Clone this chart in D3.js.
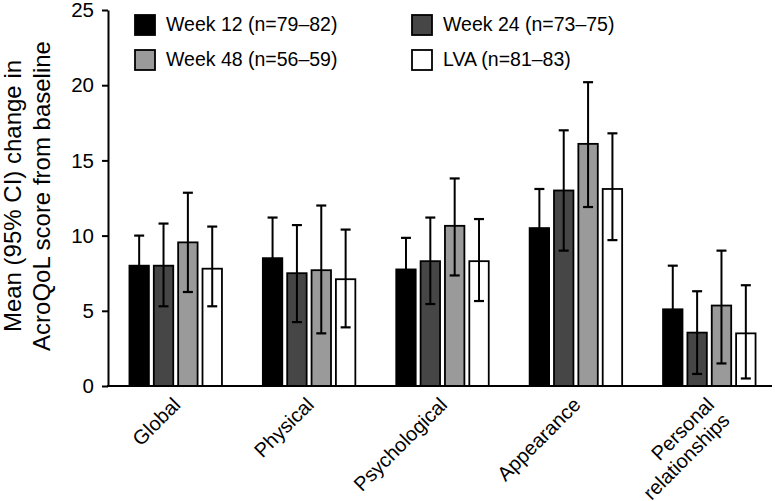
<!DOCTYPE html>
<html>

<head>
	<meta charset="utf-8">
	<title>AcroQoL change from baseline</title>
	<script type="text/javascript" src="https://cdn.jsdelivr.net/npm/d3@7/dist/d3.min.js"></script>
	<style>
		body { margin: 0; background: #fff; }
		svg text { font-family: "Liberation Sans", Arial, Helvetica, sans-serif; fill: #000; }
	</style>
</head>

<body>
	<div id="chart"></div>

	<script type="text/javascript">
		var categories = ["Global", "Physical", "Psychological", "Appearance", "Personal relationships"];
		var seriesNames = ["Week 12 (n=79\u201382)", "Week 24 (n=73\u201375)", "Week 48 (n=56\u201359)", "LVA (n=81\u201383)"];
		var seriesColors = ["#000000", "#464646", "#9a9a9a", "#ffffff"];

		// mean change per domain
		var week12 = [8.0, 8.5, 7.75, 10.5, 5.1];
		var week24 = [8.0, 7.5, 8.3, 13.0, 3.55];
		var week48 = [9.55, 7.7, 10.65, 16.1, 5.35];
		var lva = [7.8, 7.1, 8.3, 13.1, 3.5];

		// 95% CI, lower / upper
		var week12Lo = [6.0, 5.8, 5.65, 7.9, 2.2];
		var week12Hi = [10.0, 11.2, 9.85, 13.1, 8.0];
		var week24Lo = [5.3, 4.25, 5.45, 9.0, 0.8];
		var week24Hi = [10.8, 10.7, 11.2, 17.0, 6.3];
		var week48Lo = [6.25, 3.5, 7.35, 11.9, 1.5];
		var week48Hi = [12.85, 12.0, 13.8, 20.2, 9.0];
		var lvaLo = [5.3, 3.9, 5.65, 9.7, 0.5];
		var lvaHi = [10.6, 10.4, 11.1, 16.8, 6.7];

		var yTicks = [0, 5, 10, 15, 20, 25];

		var means = [week12, week24, week48, lva];
		var lows = [week12Lo, week24Lo, week48Lo, lvaLo];
		var highs = [week12Hi, week24Hi, week48Hi, lvaHi];

		// flat rows for drawing
		var rows = [];
		categories.forEach(function (c, i) {
			seriesNames.forEach(function (s, j) {
				rows.push({ cat: c, series: s, color: seriesColors[j], mean: means[j][i], lo: lows[j][i], hi: highs[j][i] });
			});
		});

		var width = 775;
		var height = 501;
		var svg = d3.select("#chart").append("svg").attr("width", width).attr("height", height);

		var x0 = d3.scaleBand().domain(categories).range([109, 776]).paddingInner(0).paddingOuter(0);
		var groupW = 94;
		var x1 = d3.scaleBand().domain(seriesNames).range([0, groupW]).paddingInner(0.14).paddingOuter(0);
		var y = d3.scaleLinear().domain([0, 25]).range([386, 10]);

		function groupX(d) {
			return x0(d.cat) + (x0.bandwidth() - groupW) / 2 + x1(d.series);
		}

		// bars
		svg.append("g").selectAll("rect")
			.data(rows)
			.enter().append("rect")
			.attr("x", function (d) { return groupX(d) + 0.75; })
			.attr("y", function (d) { return y(d.mean); })
			.attr("width", x1.bandwidth() - 1.5)
			.attr("height", function (d) { return y(0) - y(d.mean); })
			.attr("fill", function (d) { return d.color; })
			.attr("stroke", "#000")
			.attr("stroke-width", 1.8);

		// error bars
		var err = svg.append("g").selectAll("g")
			.data(rows)
			.enter().append("g")
			.attr("transform", function (d) { return "translate(" + (groupX(d) + x1.bandwidth() / 2) + ",0)"; });
		err.append("line")
			.attr("y1", function (d) { return y(d.lo); })
			.attr("y2", function (d) { return y(d.hi); })
			.attr("stroke", "#000").attr("stroke-width", 2);
		err.append("line")
			.attr("x1", -5).attr("x2", 5)
			.attr("y1", function (d) { return y(d.hi); })
			.attr("y2", function (d) { return y(d.hi); })
			.attr("stroke", "#000").attr("stroke-width", 2.2);
		err.append("line")
			.attr("x1", -5).attr("x2", 5)
			.attr("y1", function (d) { return y(d.lo); })
			.attr("y2", function (d) { return y(d.lo); })
			.attr("stroke", "#000").attr("stroke-width", 2.2);

		// y axis
		var yAxis = d3.axisLeft(y).tickValues(yTicks).tickSize(6).tickPadding(8).tickSizeOuter(0);
		var gY = svg.append("g").attr("transform", "translate(108,0)").call(yAxis);
		gY.selectAll("path, line").attr("stroke", "#000").attr("stroke-width", 2);
		gY.selectAll("text").style("font-size", "20.5px").attr("dy", "0.33em");

		// x axis baseline + labels
		svg.append("line")
			.attr("x1", 107).attr("x2", 772)
			.attr("y1", y(0)).attr("y2", y(0))
			.attr("stroke", "#000").attr("stroke-width", 2);

		var xLabels = svg.append("g").selectAll("text")
			.data(categories)
			.enter().append("text")
			.attr("transform", function (d) { return "translate(" + (x0(d) + x0.bandwidth() / 2 + 6) + ",406) rotate(-45)"; })
			.attr("text-anchor", "end")
			.style("font-size", "20px");
		xLabels.each(function (d) {
			var words = d.split(" ");
			var t = d3.select(this);
			words.forEach(function (w, k) {
				t.append("tspan").attr("x", 0).attr("dy", k === 0 ? 0 : "1.1em").text(w);
			});
		});

		// y title
		var yTitle = svg.append("text")
			.attr("transform", "translate(21,196) rotate(-90)")
			.attr("text-anchor", "middle")
			.style("font-size", "24px");
		yTitle.append("tspan").attr("x", 0).attr("dy", 0).text("Mean (95% CI) change in");
		yTitle.append("tspan").attr("x", 0).attr("dy", "1.2em").text("AcroQoL score from baseline");

		// legend
		var legendX = [134, 411];
		var legend = svg.append("g").selectAll("g")
			.data(seriesNames)
			.enter().append("g")
			.attr("transform", function (d, i) { return "translate(" + legendX[i % 2] + "," + (14 + Math.floor(i / 2) * 35) + ")"; });
		legend.append("rect")
			.attr("x", 1).attr("y", 1)
			.attr("width", 20).attr("height", 20)
			.attr("fill", function (d, i) { return seriesColors[i]; })
			.attr("stroke", "#000").attr("stroke-width", 1.8);
		legend.append("text")
			.attr("x", 32).attr("y", 17)
			.style("font-size", "19.5px")
			.text(function (d) { return d; });
	</script>

</body>

</html>
